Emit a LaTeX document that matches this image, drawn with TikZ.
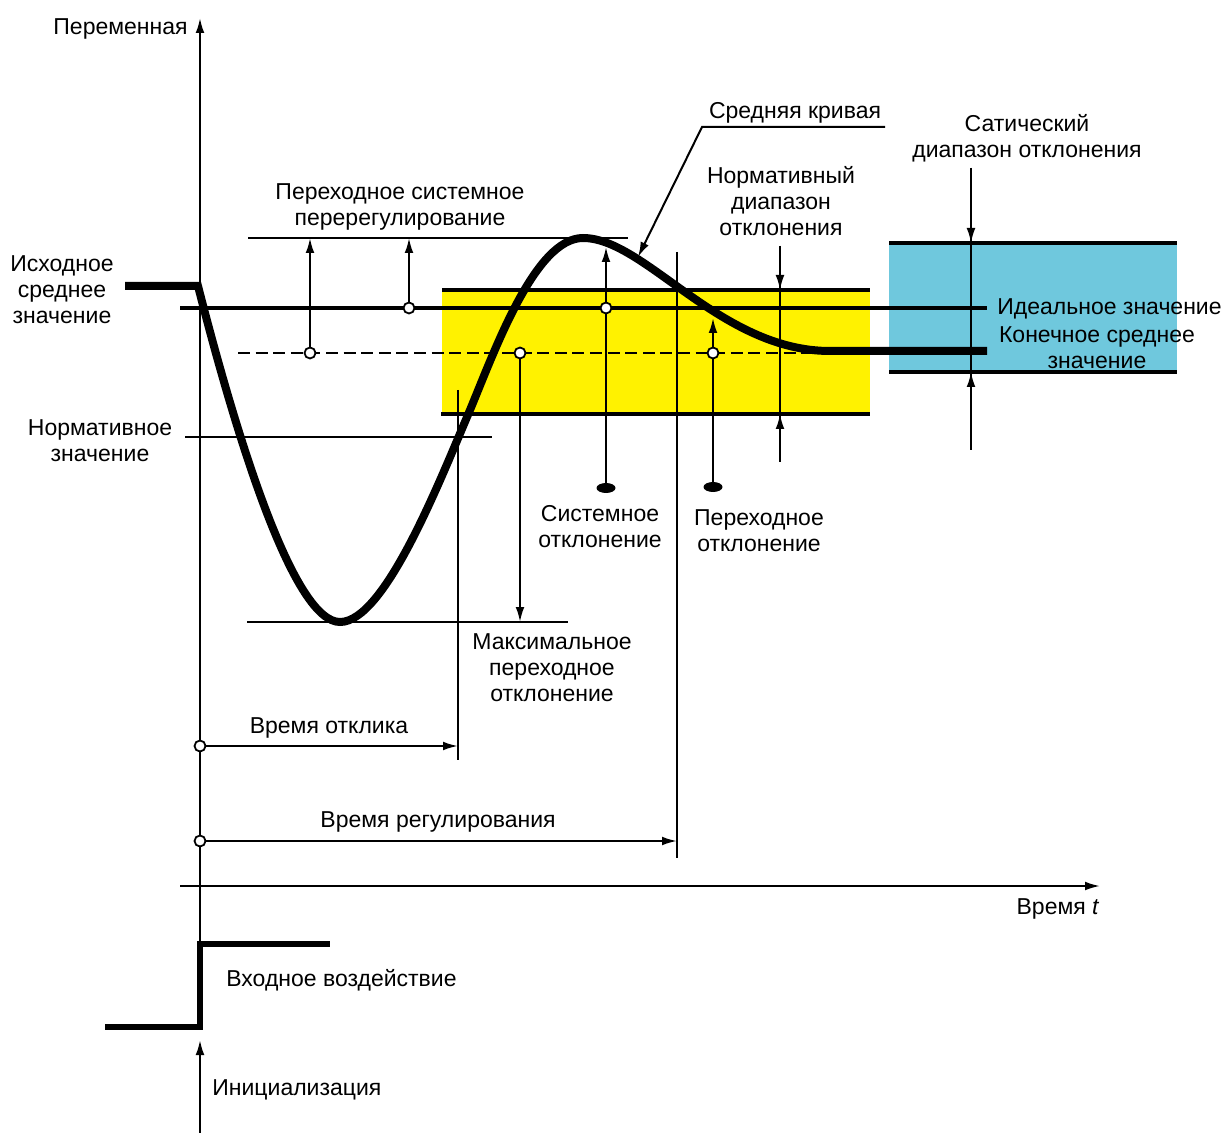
\documentclass[tikz,border=0pt]{standalone}
\usepackage{fontspec}
\setmainfont{Liberation Sans}
\usetikzlibrary{arrows.meta,shapes.geometric}
\definecolor{yel}{RGB}{255,242,0}
\definecolor{cya}{RGB}{111,200,221}
\begin{document}
\begin{tikzpicture}[x=0.5pt,y=-0.5pt,
  lbl/.style={inner sep=0pt, font=\fontsize{11.5}{13}\selectfont, align=center},
  thinln/.style={line width=1pt},
  arr/.style={thinln,-{Latex[length=7.5pt,width=4.4pt]}},
  oc/.style={circle, draw, fill=white, line width=0.9pt, inner sep=0pt, minimum size=5.5pt},
  blob/.style={ellipse, fill=black, inner sep=0pt, minimum width=9.5pt, minimum height=5pt},
  border/.style={line width=1.7pt},
  heavy/.style={line width=4pt},
]
\useasboundingbox (0,0) rectangle (1230,1133);

% positions of open circles
\coordinate (pc1) at (310,353);
\coordinate (pc2) at (409,308);
\coordinate (pc3) at (520,353);
\coordinate (pc4) at (606,308);
\coordinate (pc5) at (713,353);
\coordinate (pc6) at (200,746);
\coordinate (pc7) at (200,841);

% boxes
\fill[yel] (442,290) rectangle (870,414);
\fill[cya] (889,243) rectangle (1177,372);
\draw[border] (442,290) -- (870,290);
\draw[border] (441,414) -- (870,414);
\draw[border] (889,243) -- (1177,243);
\draw[border] (889,372) -- (1177,372);

% axes
\draw[arr] (200,943) -- (200,18);
\draw[arr] (200,1133) -- (200,1040);
\draw[arr] (180,886) -- (1100,886);

% input step
\draw[line width=3pt] (105,1027) -- (200,1027) -- (200,944) -- (330,944);

% horizontal reference lines
\draw[thinln] (248,238) -- (628,238);
\draw[thinln] (247,622) -- (568,622);
\draw[thinln] (185,437) -- (492,437);
\draw[line width=2pt] (180,308) -- (987,308);
\draw[thinln, dash pattern=on 6pt off 2.8pt] (238,353) -- (830,353);

% vertical markers
\node[blob] (e1) at (606,488) {};
\node[blob] (e2) at (713,487) {};
\draw[arr] (pc1) -- (310,238);
\draw[arr] (pc2) -- (409,238);
\draw[arr] (e1) -- (606,247);
\draw[arr] (e2) -- (713,318);
\draw[arr] (pc3) -- (520,622);
\draw[thinln] (677,252) -- (677,858);
\draw[thinln] (458,390) -- (458,760);
\draw[arr] (pc6) -- (458,746);
\draw[arr] (pc7) -- (677,841);

% normative range
\draw[thinln] (780,246) -- (780,462);
\draw[arr] (780,246) -- (780,290);
\draw[arr] (780,462) -- (780,414);

% static range
\draw[thinln] (971,168) -- (971,450);
\draw[arr] (971,168) -- (971,243);
\draw[arr] (971,450) -- (971,372);

% response curve
\draw[heavy] (125,286) -- (198,286)
  .. controls (240,450) and (295,622) .. (340,622)
  .. controls (385,622) and (440,480) .. (470,410)
  .. controls (495,350) and (535,238) .. (583,238)
  .. controls (645,238) and (720,351) .. (830,351) -- (987,351);

% mean curve leader
\draw[arr] (885,127) -- (702,127) -- (638,257);

% open circles
\foreach \i in {1,...,7} \node[oc] (c\i) at (pc\i) {};

% labels
\node[lbl, anchor=east] (tvar) at (188,29) {Переменная};
\node[lbl] (tinit) at (62,290) {Исходное\\среднее\\значение};
\node[lbl] (tover) at (400,207) {Переходное системное\\перерегулирование};
\node[lbl] (tmean) at (795,113) {Средняя кривая};
\node[lbl] (tnrange) at (781,201) {Нормативный\\диапазон\\отклонения};
\node[lbl] (tsrange) at (1027,138) {Сатический\\диапазон отклонения};
\node[lbl, anchor=west] (tideal) at (997,309) {Идеальное значение};
\node[lbl] (tfinal) at (1097,348) {Конечное среднее\\значение};
\node[lbl] (tnorm) at (100,441) {Нормативное\\значение};
\node[lbl] (tsys) at (600,527) {Системное\\отклонение};
\node[lbl] (ttrans) at (759,531) {Переходное\\отклонение};
\node[lbl] (tmax) at (552,668) {Максимальное\\переходное\\отклонение};
\node[lbl] (tresp) at (329,728) {Время отклика};
\node[lbl] (tsettle) at (438,822) {Время регулирования};
\node[lbl] (ttime) at (1058,909) {Время \textit{t}};
\node[lbl, anchor=west] (tinput) at (226,980) {Входное воздействие};
\node[lbl, anchor=west] (tstart) at (212,1090) {Инициализация};
\end{tikzpicture}
\end{document}
